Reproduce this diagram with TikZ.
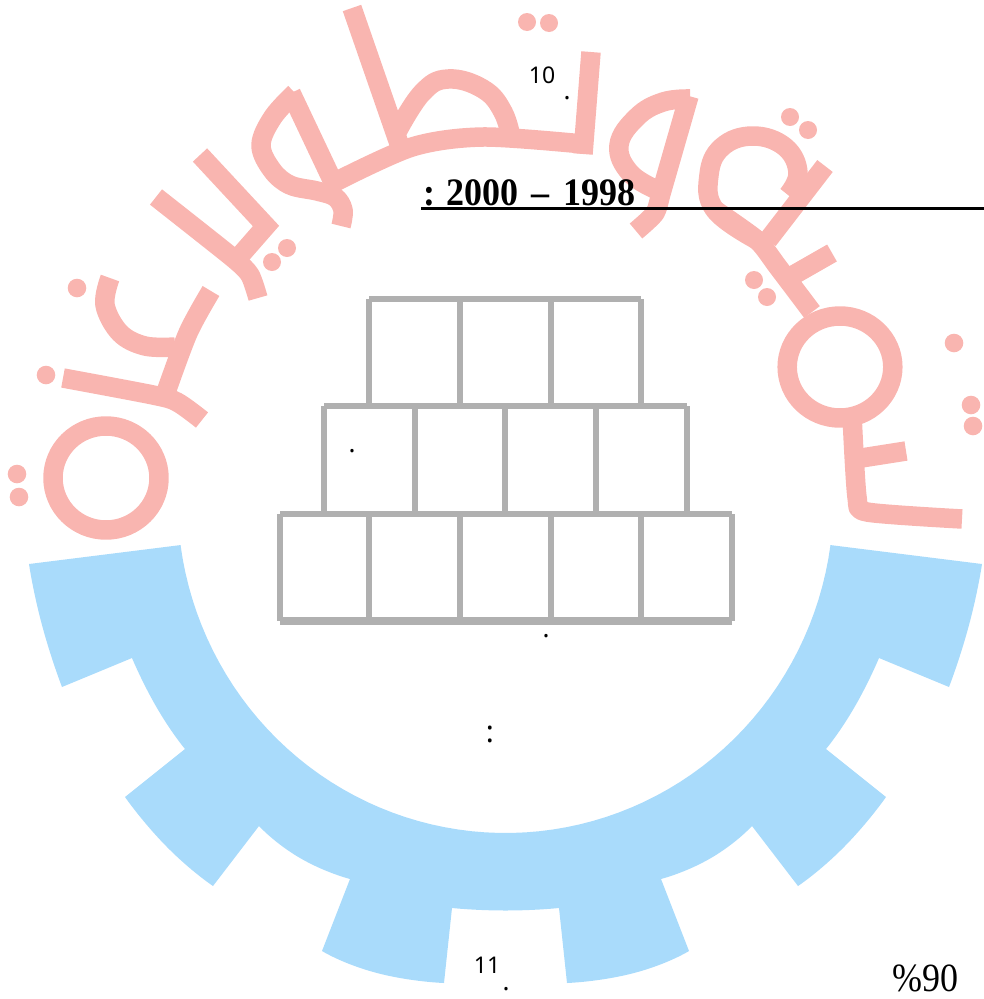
\documentclass[tikz,border=0pt]{standalone}
\usepackage{fontspec}
\setmainfont{Liberation Serif}
\newfontfamily\numfont{Noto Sans}
\definecolor{pinkc}{HTML}{F9B5B0}
\definecolor{bluec}{HTML}{A9DBFB}
\definecolor{gridc}{HTML}{B0B0B0}
\tikzset{
  pinkline/.style={draw=pinkc,line width=19.5pt,line join=round,line cap=butt},
  pinkdot/.style={fill=pinkc},
  gridline/.style={draw=gridc,line width=6.8pt,line cap=square},
  smallnum/.style={inner sep=0pt,font=\numfont\fontsize{23}{26}\selectfont},
  point/.style={inner sep=0pt,font=\numfont\fontsize{26}{28}\selectfont},
  bigtext/.style={inner sep=0pt,anchor=base west,yscale=1.08}
}
\begin{document}
\begin{tikzpicture}[x=1pt,y=-1pt]
\useasboundingbox (0,0) rectangle (984,999);
% watermark lettering
\draw[pinkline] (106,478) ellipse (53 and 52);
\fill[pinkdot] (17,474) circle (9.3) (19,497) circle (9.3) (46,375) circle (9.3) (77,288) circle (9.3);
\draw[pinkline] plot[smooth,tension=.5] coordinates {(63,378) (153,395) (177,402) (202,420)};
\draw[pinkline] plot[smooth,tension=.5] coordinates {(211,291) (188,333) (165,395)};
\draw[pinkline] plot[smooth,tension=.6] coordinates {(110,278) (105,305) (120,333) (145,346) (175,347)};
\draw[pinkline] plot[smooth,tension=.4] coordinates {(156,197) (233,258) (250,275) (258,298)};
\draw[pinkline,line join=miter] (200,155) -- (266,226) -- (238,258);
\fill[pinkdot] (287,248) circle (9) (272,262) circle (9);
\draw[pinkline] plot[smooth,tension=.6] coordinates {(295,93) (273,117) (261,145) (272,170) (290,185) (317,191) (335,197) (343,210) (341,226)};
\draw[pinkline] (291,93) -- (335,186);
\draw[pinkline] plot[smooth,tension=.5] coordinates {(333,183) (412,147) (483,137) (583,144)};
\draw[pinkline] (352,8) -- (403,155);
\draw[pinkline] plot[smooth,tension=.7] coordinates {(397,132) (422,93) (448,79) (483,89) (503,112) (512,142)};
\draw[pinkline,line join=miter] (591,52) -- (583,154);
\fill[pinkdot] (527,22) circle (9) (549,23) circle (9);
\draw[pinkline] plot[smooth,tension=.7] coordinates {(690,99) (663,102) (637,117) (619,145) (630,173) (657,190)};
\draw[pinkline] plot[smooth,tension=.4] coordinates {(689,96) (662,190) (655,213) (636,231)};
\draw[pinkline] plot[smooth,tension=.7] coordinates {(757,240) (715,210) (709,175) (722,147) (753,136) (785,147) (798,173) (788,195)};
\draw[pinkline] plot[smooth,tension=.4] coordinates {(715,210) (757,240) (778,267) (812,312)};
\draw[pinkline] (825,166) -- (768,240);
\fill[pinkdot] (790,117) circle (9) (808,130) circle (9);
\draw[pinkline] (832,253) -- (790,277);
\fill[pinkdot] (754,280) circle (9) (767,297) circle (9);
\draw[pinkline] (840,367) ellipse (52.8 and 51);
\fill[pinkdot] (954,343) circle (9.3) (971,405) circle (9.3) (973,426) circle (9.3);
\draw[pinkline] plot[smooth,tension=.4] coordinates {(852,415) (857,497) (867,512) (962,519)};
\draw[pinkline] (906,451) -- (855,459);
% gear
\fill[bluec] (181,545) -- (29,564)
  -- plot[smooth,tension=1] coordinates {(29,564) (42,625) (62,687)} -- (132,658)
  -- plot[smooth,tension=1] coordinates {(132,658) (157,708) (185,749)} -- (125,797)
  -- plot[smooth,tension=1] coordinates {(125,797) (167,847) (213,886)} -- (259,826)
  -- plot[smooth,tension=1] coordinates {(259,826) (300,858) (350,879)} -- (322,951)
  -- plot[smooth,tension=1] coordinates {(322,951) (377,973) (444,983)} -- (452,908)
  -- plot[smooth,tension=1] coordinates {(452,908) (505.5,910.5) (559,908)} -- (567,983)
  -- plot[smooth,tension=1] coordinates {(567,983) (634,973) (689,951)} -- (661,879)
  -- plot[smooth,tension=1] coordinates {(661,879) (711,858) (752,826)} -- (798,886)
  -- plot[smooth,tension=1] coordinates {(798,886) (844,847) (886,797)} -- (826,749)
  -- plot[smooth,tension=1] coordinates {(826,749) (854,708) (879,658)} -- (949,687)
  -- plot[smooth,tension=1] coordinates {(949,687) (969,625) (982,564)} -- (830,545)
  -- plot[domain=7.8:172.2,samples=70] ({505.5+328*cos(\x)},{500+333*sin(\x)})
  -- cycle;
% block grid
\draw[gridline] (369,299) -- (641,299) (324,406) -- (687,406) (280,514) -- (732,514);
\draw[gridline,line width=7.7pt] (280,621) -- (732,621);
\draw[gridline] (369,299) -- (369,406) (460,299) -- (460,406) (551,299) -- (551,406) (641,299) -- (641,406);
\draw[gridline] (324,406) -- (324,514) (415,406) -- (415,514) (505,406) -- (505,514) (596,406) -- (596,514) (687,406) -- (687,514);
\draw[gridline] (280,514) -- (280,621) (369,514) -- (369,621) (460,514) -- (460,621) (551,514) -- (551,621) (641,514) -- (641,621) (732,514) -- (732,621);
% texts
\coordinate (rulestart) at (421,208.3);
\coordinate (ruleend) at (984,208.3);
\draw[black,line width=3.3pt] (rulestart) -- (ruleend);
\node[bigtext,font=\bfseries\fontsize{36}{40}\selectfont] (title) at (423,205) {:\hspace{11pt}2000\hspace{13pt}--\hspace{14pt}1998};
\node[smallnum] (n10) at (542,75) {10};
\node[point] (p1) at (567,98) {.};
\node[point] (p2) at (352,451) {.};
\node[point] (p3) at (546,636) {.};
\node[point,font=\numfont\fontsize{30}{32}\selectfont] (colon) at (490,734) {:};
\node[smallnum] (n11) at (487,965) {11};
\node[point] (p4) at (506,989) {.};
\node[bigtext,font=\fontsize{36}{40}\selectfont,yscale=1.03] (pct) at (892,991) {\%90};
\end{tikzpicture}
\end{document}
